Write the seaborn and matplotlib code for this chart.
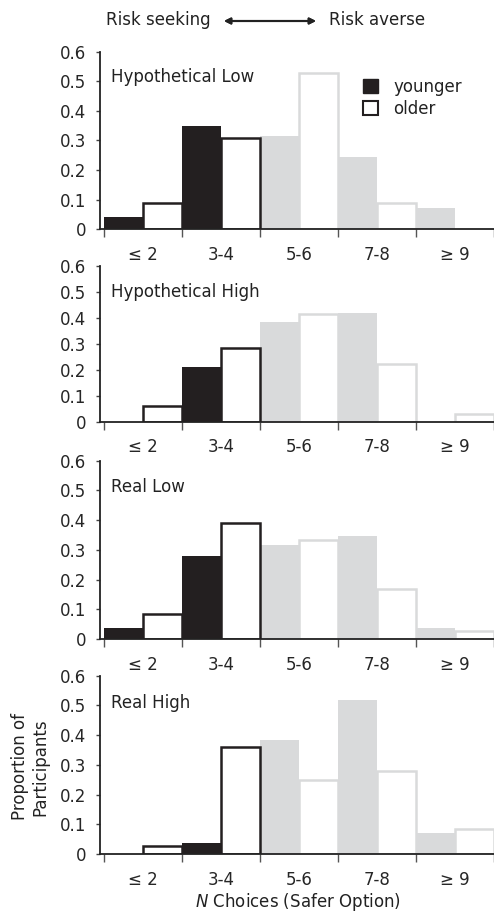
import pandas as pd
import seaborn as sns
import matplotlib.pyplot as plt
from matplotlib.patches import Patch

categories = ["\u2264 2", "3-4", "5-6", "7-8", "\u2265 9"]
groups = ["younger", "older"]
panel_titles = ["Hypothetical Low", "Hypothetical High", "Real Low", "Real High"]

hyp_low_young = [0.04, 0.35, 0.315, 0.245, 0.07]
hyp_low_old = [0.087, 0.31, 0.53, 0.087, 0.0]
hyp_high_young = [0.0, 0.21, 0.382, 0.418, 0.0]
hyp_high_old = [0.06, 0.283, 0.415, 0.223, 0.031]
real_low_young = [0.038, 0.278, 0.315, 0.348, 0.038]
real_low_old = [0.083, 0.392, 0.334, 0.169, 0.028]
real_high_young = [0.0, 0.037, 0.382, 0.518, 0.071]
real_high_old = [0.027, 0.359, 0.249, 0.278, 0.084]

panels = [
    (hyp_low_young, hyp_low_old),
    (hyp_high_young, hyp_high_old),
    (real_low_young, real_low_old),
    (real_high_young, real_high_old),
]

dark = "#231f20"
light = "#d9dadb"
cat_colors = [dark, dark, light, light, light]
fs = 12

sns.set_theme(style="white")
plt.rcParams["font.family"] = ["DejaVu Sans"]
plt.rcParams["text.color"] = "#222222"

fig = plt.figure(figsize=(4.94, 9.15), dpi=100)

# [left, bottom, width, height] in figure fractions
boxes = [
    [0.2024, 0.7497, 0.7976, 0.1935],
    [0.2024, 0.5391, 0.7976, 0.1705],
    [0.2024, 0.3016, 0.7976, 0.1949],
    [0.2024, 0.0667, 0.7976, 0.1948],
]
label_y = [0.86, 0.83, 0.854, 0.849]

for i, (young, old) in enumerate(panels):
    ax = fig.add_axes(boxes[i])
    df = pd.DataFrame({
        "cat": categories * 2,
        "prop": young + old,
        "group": ["younger"] * len(categories) + ["older"] * len(categories),
    })
    sns.barplot(data=df, x="cat", y="prop", hue="group", hue_order=groups,
                order=categories, width=1.0, gap=0, legend=False, ax=ax)
    for j, bar in enumerate(ax.containers[0]):
        bar.set_facecolor(cat_colors[j])
        bar.set_edgecolor(cat_colors[j])
        bar.set_linewidth(0)
    for j, bar in enumerate(ax.containers[1]):
        bar.set_facecolor("white")
        bar.set_edgecolor(cat_colors[j])
        bar.set_linewidth(1.8 if bar.get_height() > 0 else 0)

    ax.set_xlim(-0.55, 4.5)
    ax.set_ylim(0, 0.6)
    sns.despine(ax=ax)
    ax.spines["left"].set_color("#222222")
    ax.spines["bottom"].set_color("#222222")
    ax.spines["left"].set_linewidth(1.3)
    ax.spines["bottom"].set_linewidth(1.3)

    ax.set_yticks([0, 0.1, 0.2, 0.3, 0.4, 0.5, 0.6])
    ax.set_yticklabels(["0", "0.1", "0.2", "0.3", "0.4", "0.5", "0.6"], fontsize=fs)
    ax.tick_params(axis="y", left=True, length=3, width=1, color="#444444", pad=7)

    ax.set_xticks(range(len(categories)))
    ax.set_xticklabels(categories, fontsize=fs)
    ax.set_xticks([k - 0.5 for k in range(len(categories) + 1)], minor=True)
    ax.tick_params(axis="x", which="major", bottom=True, length=0, pad=12)
    ax.tick_params(axis="x", which="minor", bottom=True, length=6, width=1, color="#555555")
    ax.set_xlabel("")
    ax.set_ylabel("")

    ax.text(0.028, label_y[i], panel_titles[i], transform=ax.transAxes,
            fontsize=fs, va="center", ha="left")

    if i == 0:
        handles = [Patch(facecolor=dark, edgecolor=dark),
                   Patch(facecolor="white", edgecolor=dark, linewidth=1.5)]
        ax.legend(handles, groups, loc="upper left", bbox_to_anchor=(0.63, 0.94),
                  frameon=False, fontsize=fs, handlelength=0.9, handleheight=0.9,
                  handletextpad=0.9, labelspacing=0.25)

# header with arrow
fig.text(106 / 494, 1 - 20 / 915, "Risk seeking", fontsize=fs, ha="left", va="center")
fig.text(329 / 494, 1 - 20 / 915, "Risk averse", fontsize=fs, ha="left", va="center")
fig.add_artist(plt.annotate("", xy=(316 / 494, 1 - 21 / 915), xytext=(224 / 494, 1 - 21 / 915),
                            xycoords="figure fraction", textcoords="figure fraction",
                            arrowprops=dict(arrowstyle="<|-|>", color="#222222", lw=1.5,
                                            mutation_scale=9, shrinkA=0, shrinkB=0)))

fig.text(298 / 494, 1 - 902 / 915, r"$\mathit{N}$ Choices (Safer Option)",
         fontsize=fs, ha="center", va="center")
fig.text(30 / 494, 1 - 767 / 915, "Proportion of\nParticipants", fontsize=fs,
         rotation=90, ha="center", va="center", multialignment="center")

fig.savefig("out.png", dpi=100)
